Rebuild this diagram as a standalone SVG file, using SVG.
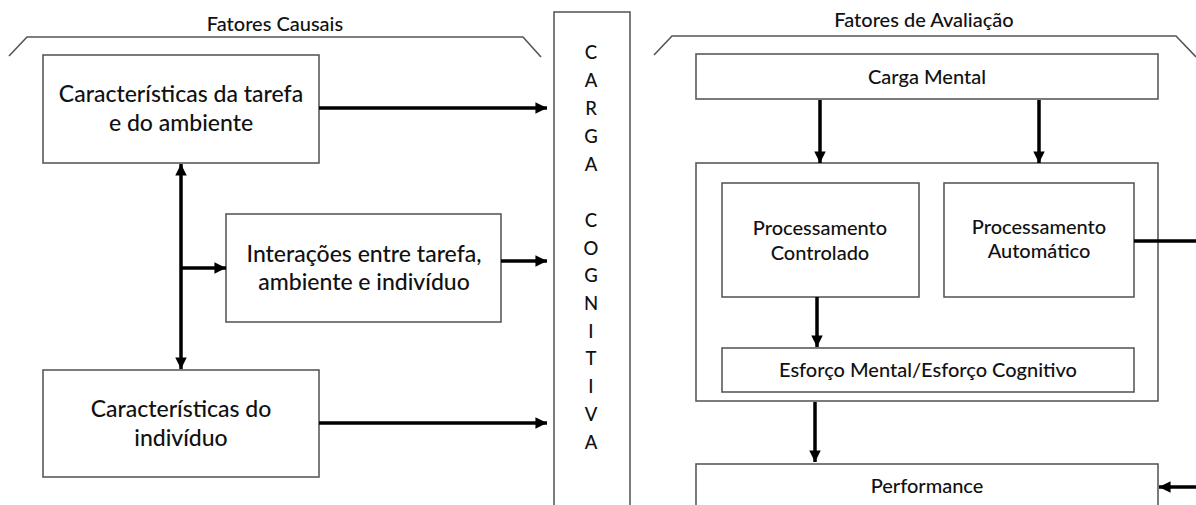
<svg xmlns="http://www.w3.org/2000/svg" width="1196" height="505" viewBox="0 0 1196 505">
<defs>
<marker id="ah" viewBox="0 0 10 10" refX="10" refY="5" markerWidth="3.3" markerHeight="3.3" orient="auto-start-reverse" markerUnits="strokeWidth">
<path d="M0,0 L10,5 L0,10 z" fill="#000"/>
</marker>
<style>
.box{fill:#fff;stroke:#5a5a5a;stroke-width:1.6}
.br{fill:none;stroke:#555;stroke-width:1.6}
.c{stroke:#000;stroke-width:3.5;fill:none}
.a{marker-end:url(#ah)}
.t{font-family:Lato,"Open Sans","Liberation Sans",sans-serif;font-weight:500;fill:#111;text-anchor:middle}
.L{font-size:23px}
.R{font-size:20px}
.H{font-size:20px}
.V{font-size:18.5px}
</style>
</defs>
<rect width="1196" height="505" fill="#fff"/>

<g id="header-left">
<path class="br" d="M9,56 L27,37 L523,37 L541,57"/>
<text class="t H" x="275" y="31">Fatores Causais</text>
</g>
<g id="header-right">
<path class="br" d="M654,55 L672,36 L1176,36 L1196,57"/>
<text class="t H" x="924" y="27">Fatores de Avaliação</text>
</g>

<g id="carga-cognitiva">
<rect class="box" x="554" y="12" width="76" height="510"/>
<g class="t V">
<text x="591" y="59">C</text>
<text x="591" y="87">A</text>
<text x="591" y="115">R</text>
<text x="591" y="143">G</text>
<text x="591" y="171">A</text>
<text x="591" y="227">C</text>
<text x="591" y="255">O</text>
<text x="591" y="282">G</text>
<text x="591" y="310">N</text>
<text x="591" y="338">I</text>
<text x="591" y="365">T</text>
<text x="591" y="393">I</text>
<text x="591" y="421">V</text>
<text x="591" y="449">A</text>
</g>
</g>

<g id="caracteristicas-tarefa">
<rect class="box" x="43" y="55" width="276" height="108"/>
<text class="t L" x="181" y="102">Características da tarefa</text>
<text class="t L" x="181" y="131">e do ambiente</text>
</g>
<g id="interacoes">
<rect class="box" x="226" y="214" width="275" height="108"/>
<text class="t L" x="364" y="262">Interações entre tarefa,</text>
<text class="t L" x="364" y="290">ambiente e indivíduo</text>
</g>
<g id="caracteristicas-individuo">
<rect class="box" x="43" y="370" width="276" height="107"/>
<text class="t L" x="181" y="417">Características do</text>
<text class="t L" x="181" y="446">indivíduo</text>
</g>

<g id="carga-mental">
<rect class="box" x="696" y="54" width="462" height="45"/>
<text class="t R" x="927" y="84">Carga Mental</text>
</g>
<g id="processamento-grupo">
<rect class="box" x="696" y="163" width="462" height="238"/>
</g>
<g id="processamento-controlado">
<rect class="box" x="722" y="183" width="197" height="114"/>
<text class="t R" x="820" y="235">Processamento</text>
<text class="t R" x="820" y="260">Controlado</text>
</g>
<g id="processamento-automatico">
<rect class="box" x="944" y="183" width="190" height="114"/>
<text class="t R" x="1039" y="234">Processamento</text>
<text class="t R" x="1039" y="258">Automático</text>
</g>
<g id="esforco">
<rect class="box" x="722" y="348" width="412" height="44"/>
<text class="t R" x="928" y="377">Esforço Mental/Esforço Cognitivo</text>
</g>
<g id="performance">
<rect class="box" x="696" y="464" width="462" height="60"/>
<text class="t R" x="927" y="493">Performance</text>
</g>

<g id="connectors">
<line class="c a" x1="319" y1="108" x2="547" y2="108"/>
<line class="c a" x1="501" y1="261" x2="547" y2="261"/>
<line class="c a" x1="319" y1="423" x2="547" y2="423"/>
<line class="c a" x1="181" y1="216" x2="181" y2="164"/>
<line class="c a" x1="181" y1="216" x2="181" y2="369"/>
<line class="c a" x1="181" y1="268" x2="226" y2="268"/>
<line class="c a" x1="820" y1="100" x2="820" y2="163"/>
<line class="c a" x1="1039" y1="100" x2="1039" y2="163"/>
<line class="c" x1="1134" y1="241" x2="1196" y2="241"/>
<line class="c a" x1="817" y1="297" x2="817" y2="347"/>
<line class="c a" x1="815" y1="402" x2="815" y2="462"/>
<line class="c a" x1="1196" y1="487" x2="1159" y2="487"/>
</g>
</svg>
